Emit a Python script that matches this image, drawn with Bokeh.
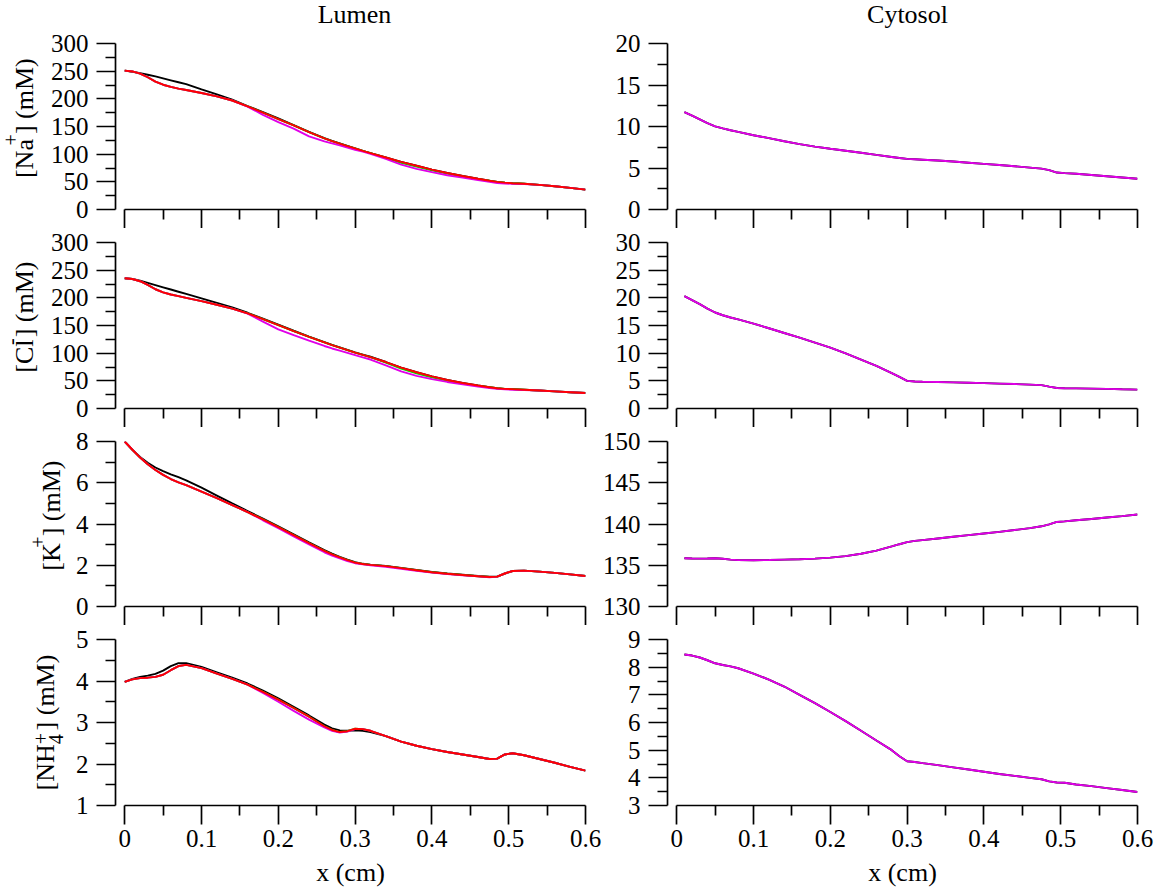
from math import pi

from bokeh.embed import file_html
from bokeh.layouts import column, row
from bokeh.models import FixedTicker, Label, NumeralTickFormatter, Range1d
from bokeh.plotting import figure
from bokeh.resources import INLINE

# ---------------------------------------------------------------- data
# position along the tubule (cm)
x_lumen = [0, 0.01, 0.02, 0.03, 0.04, 0.05, 0.06, 0.07, 0.08, 0.1, 0.12, 0.14,
           0.16, 0.18, 0.2, 0.22, 0.24, 0.26, 0.27, 0.28, 0.29, 0.3, 0.31, 0.32,
           0.34, 0.36, 0.38, 0.4, 0.42, 0.44, 0.46, 0.475, 0.485, 0.495, 0.505,
           0.52, 0.54, 0.56, 0.58, 0.6]
x_cytosol = [0.01, 0.02, 0.03, 0.04, 0.05, 0.06, 0.07, 0.08, 0.1, 0.12, 0.14,
             0.16, 0.18, 0.2, 0.22, 0.24, 0.26, 0.28, 0.29, 0.3, 0.31, 0.32,
             0.34, 0.36, 0.38, 0.4, 0.42, 0.44, 0.46, 0.475, 0.485, 0.495, 0.505,
             0.52, 0.54, 0.56, 0.58, 0.6]

# luminal concentrations (mM), one list per simulation
na_lumen_black = [251, 249, 246.5, 243.5, 240.5, 237, 233.5, 230, 226.5, 217, 208, 198.5,
                  187, 176, 164.5, 152.5, 140.5, 129, 124, 119.5, 115, 110.5, 106, 102,
                  94, 86, 79, 72, 66, 60.5, 55.5, 52, 50, 48.5, 47.5,
                  46.5, 44.5, 42, 39, 36]
na_lumen_green = [251, 249.5, 245.5, 239, 231, 225.5, 221.5, 218.5, 216, 210.5, 204.5, 197,
                  186.5, 175, 163.5, 152, 140, 128.5, 123.5, 119, 114.5, 110.5, 106, 102,
                  93.5, 84.5, 77.5, 71, 65, 60, 55, 52, 50, 48.5, 47.5,
                  46.5, 44.5, 42, 39, 36]
na_lumen_magenta = [251, 249.5, 245.5, 239, 231, 225.5, 221.5, 218.5, 216, 210.5, 204.5, 197,
                    186, 171, 158, 146, 132, 123, 119.5, 116, 112, 108, 104.5, 100.5,
                    91.5, 81, 73.5, 67.5, 62, 57.5, 53, 50, 48, 47, 46.5,
                    46, 44.5, 42, 39, 36]
na_lumen_red = [251, 249.5, 245.5, 239, 231, 225.5, 221.5, 218.5, 216, 210.5, 204.5, 197,
                186.5, 175, 163.5, 152, 140, 128.5, 123.5, 119, 114.5, 110.5, 106, 102,
                94, 86, 79, 72, 66, 60.5, 55.5, 52, 50, 48.5, 47.5,
                46.5, 44.5, 42, 39, 36]

cl_lumen_black = [235.5, 234, 231, 227, 223, 219, 215, 211, 207, 199, 191, 182.5,
                  173, 162.5, 151.5, 140.5, 130, 120, 115, 110.5, 106, 101.5, 97.5, 93.5,
                  84, 74, 65.5, 58, 51.5, 46, 41.5, 38.5, 36.5, 35.5, 35,
                  34, 32.5, 31, 29.5, 28]
cl_lumen_green = [235.5, 234, 230, 223.5, 215.5, 210, 206, 203, 200, 194, 187.5, 180.5,
                  172, 161.5, 150.5, 140, 129.5, 119.5, 114.5, 110, 105.5, 101, 97, 93,
                  83, 72, 63.5, 56.5, 50.5, 45.5, 41, 38.5, 36.5, 35.5, 35,
                  34, 32.5, 31, 29.5, 28]
cl_lumen_magenta = [235.5, 234, 230, 223.5, 215.5, 210, 206, 203, 200, 194, 187.5, 180.5,
                    171.5, 157, 143, 132.5, 122.5, 113, 108.5, 104.5, 100.5, 96.5, 92.5, 88.5,
                    78, 67, 59, 53, 48, 43.5, 39.5, 37, 35.5, 34.5, 34,
                    33.5, 32.5, 31, 29.5, 28]
cl_lumen_red = [235.5, 234, 230, 223.5, 215.5, 210, 206, 203, 200, 194, 187.5, 180.5,
                172, 161.5, 150.5, 140, 129.5, 119.5, 114.5, 110, 105.5, 101, 97, 93,
                84, 74, 65.5, 58, 51.5, 46, 41.5, 38.5, 36.5, 35.5, 35,
                34, 32.5, 31, 29.5, 28]

k_lumen_black = [8.0, 7.6, 7.25, 6.97, 6.74, 6.56, 6.41, 6.27, 6.12, 5.76, 5.38, 5.0,
                 4.63, 4.26, 3.89, 3.5, 3.11, 2.73, 2.56, 2.41, 2.27, 2.15, 2.07, 2.03,
                 1.97, 1.87, 1.77, 1.67, 1.6, 1.54, 1.48, 1.44, 1.45, 1.6, 1.72,
                 1.74, 1.69, 1.63, 1.56, 1.48]
k_lumen_green = [8.0, 7.6, 7.22, 6.9, 6.62, 6.38, 6.18, 6.02, 5.88, 5.57, 5.25, 4.92,
                 4.58, 4.22, 3.85, 3.46, 3.07, 2.7, 2.53, 2.38, 2.25, 2.13, 2.06, 2.02,
                 1.96, 1.86, 1.76, 1.66, 1.59, 1.53, 1.47, 1.43, 1.45, 1.6, 1.72,
                 1.74, 1.69, 1.63, 1.56, 1.48]
k_lumen_magenta = [8.0, 7.6, 7.22, 6.9, 6.62, 6.38, 6.18, 6.02, 5.88, 5.57, 5.25, 4.92,
                   4.58, 4.18, 3.8, 3.4, 3.01, 2.63, 2.47, 2.33, 2.2, 2.1, 2.04, 2.0,
                   1.93, 1.83, 1.73, 1.64, 1.57, 1.51, 1.46, 1.42, 1.45, 1.6, 1.72,
                   1.74, 1.69, 1.63, 1.56, 1.48]
k_lumen_red = [8.0, 7.6, 7.22, 6.9, 6.62, 6.38, 6.18, 6.02, 5.88, 5.57, 5.25, 4.92,
               4.58, 4.22, 3.85, 3.46, 3.07, 2.7, 2.53, 2.38, 2.25, 2.13, 2.06, 2.02,
               1.96, 1.86, 1.76, 1.66, 1.59, 1.53, 1.47, 1.43, 1.45, 1.6, 1.72,
               1.74, 1.69, 1.63, 1.56, 1.48]

nh4_lumen_black = [3.98, 4.05, 4.1, 4.13, 4.17, 4.25, 4.36, 4.43, 4.43, 4.34, 4.21, 4.08,
                   3.94, 3.77, 3.58, 3.38, 3.17, 2.95, 2.86, 2.81, 2.8, 2.81, 2.8, 2.77,
                   2.67, 2.54, 2.44, 2.36, 2.29, 2.23, 2.17, 2.12, 2.13, 2.23, 2.26,
                   2.21, 2.12, 2.03, 1.93, 1.84]
nh4_lumen_green = [3.98, 4.04, 4.07, 4.08, 4.1, 4.15, 4.26, 4.36, 4.39, 4.31, 4.18, 4.05,
                   3.91, 3.74, 3.55, 3.35, 3.14, 2.91, 2.82, 2.77, 2.79, 2.85, 2.84, 2.8,
                   2.67, 2.54, 2.44, 2.36, 2.29, 2.23, 2.17, 2.12, 2.13, 2.23, 2.26,
                   2.21, 2.12, 2.03, 1.93, 1.84]
nh4_lumen_magenta = [3.98, 4.04, 4.07, 4.08, 4.1, 4.15, 4.26, 4.36, 4.39, 4.31, 4.18, 4.05,
                     3.91, 3.71, 3.5, 3.28, 3.07, 2.88, 2.8, 2.76, 2.78, 2.84, 2.84, 2.8,
                     2.67, 2.54, 2.44, 2.36, 2.29, 2.23, 2.17, 2.12, 2.13, 2.23, 2.26,
                     2.21, 2.12, 2.03, 1.93, 1.84]
nh4_lumen_red = [3.98, 4.04, 4.07, 4.08, 4.1, 4.15, 4.26, 4.36, 4.39, 4.31, 4.18, 4.05,
                 3.91, 3.74, 3.55, 3.35, 3.14, 2.91, 2.82, 2.77, 2.79, 2.85, 2.84, 2.8,
                 2.67, 2.54, 2.44, 2.36, 2.29, 2.23, 2.17, 2.12, 2.13, 2.23, 2.26,
                 2.21, 2.12, 2.03, 1.93, 1.84]

# cytosolic concentrations (mM); all simulations coincide here
na_cytosol = [11.74, 11.3, 10.85, 10.4, 10.02, 9.78, 9.55, 9.35, 8.95, 8.6, 8.22,
              7.88, 7.58, 7.32, 7.08, 6.84, 6.58, 6.33, 6.2, 6.1, 6.05, 6.0,
              5.9, 5.78, 5.64, 5.5, 5.36, 5.21, 5.05, 4.92, 4.75, 4.45, 4.38,
              4.3, 4.15, 4.0, 3.85, 3.7]
cl_cytosol = [20.3, 19.6, 18.85, 18.05, 17.35, 16.85, 16.45, 16.1, 15.35, 14.5, 13.65,
              12.8, 11.9, 11.0, 9.95, 8.85, 7.7, 6.4, 5.7, 5.0, 4.88, 4.84,
              4.78, 4.72, 4.65, 4.58, 4.5, 4.42, 4.32, 4.22, 3.95, 3.7, 3.66,
              3.64, 3.6, 3.55, 3.48, 3.42]
k_cytosol = [135.85, 135.82, 135.8, 135.82, 135.85, 135.78, 135.68, 135.62, 135.6, 135.63, 135.68,
             135.73, 135.8, 135.92, 136.1, 136.4, 136.78, 137.28, 137.55, 137.8, 137.95, 138.05,
             138.25, 138.45, 138.65, 138.85, 139.05, 139.27, 139.5, 139.72, 139.95, 140.25, 140.32,
             140.45, 140.6, 140.78, 140.95, 141.15]
nh4_cytosol = [8.46, 8.42, 8.35, 8.25, 8.14, 8.08, 8.03, 7.96, 7.77, 7.55, 7.3,
               7.0, 6.7, 6.38, 6.05, 5.7, 5.35, 5.0, 4.78, 4.6, 4.57, 4.53,
               4.46, 4.38, 4.3, 4.22, 4.14, 4.07, 4.0, 3.95, 3.87, 3.83, 3.82,
               3.76, 3.7, 3.63, 3.56, 3.49]

# axis ticks
x_ticks = [0, 0.1, 0.2, 0.3, 0.4, 0.5, 0.6]
x_minor = [0.05, 0.15, 0.25, 0.35, 0.45, 0.55]
na_lumen_ticks, na_lumen_minor = [0, 50, 100, 150, 200, 250, 300], [25, 75, 125, 175, 225, 275]
na_cyto_ticks, na_cyto_minor = [0, 5, 10, 15, 20], [2.5, 7.5, 12.5, 17.5]
cl_lumen_ticks, cl_lumen_minor = [0, 50, 100, 150, 200, 250, 300], [25, 75, 125, 175, 225, 275]
cl_cyto_ticks, cl_cyto_minor = [0, 5, 10, 15, 20, 25, 30], [2.5, 7.5, 12.5, 17.5, 22.5, 27.5]
k_lumen_ticks, k_lumen_minor = [0, 2, 4, 6, 8], [1, 3, 5, 7]
k_cyto_ticks, k_cyto_minor = [130, 135, 140, 145, 150], [132.5, 137.5, 142.5, 147.5]
nh4_lumen_ticks, nh4_lumen_minor = [1, 2, 3, 4, 5], [1.5, 2.5, 3.5, 4.5]
nh4_cyto_ticks, nh4_cyto_minor = [3, 4, 5, 6, 7, 8, 9], [3.5, 4.5, 5.5, 6.5, 7.5, 8.5]

# ---------------------------------------------------------------- style
FONT = "Liberation Serif"
FS = 26          # title text size (px)
TICK_FS = 25     # tick label size (px)
SUB_FS = 20      # super/subscript size (px)
MID = 0.37       # offset of a label's anchor above its baseline, in em
BLACK, GREEN, MAGENTA, RED = "#000000", "#00d800", "#e000e8", "#ff0000"
LW = 1.9
AXW = 1.7

X0, X1 = -0.012, 0.6
FRAME_W = 470
PAGE_W = 1168
HEAD_H = 29

# advance widths (em) of the serif face used for the axis titles
EM = {"[": 0.333, "]": 0.333, "N": 0.722, "a": 0.444, "C": 0.667, "l": 0.278,
      "K": 0.722, "H": 0.722, " ": 0.25, "(": 0.333, ")": 0.333, "m": 0.778,
      "M": 0.889, "+": 0.564, "-": 0.333, "4": 0.5}


def text_width(s, size):
    return sum(EM[c] for c in s) * size


def style_axis(ax):
    ax.axis_line_color = "black"
    ax.axis_line_width = AXW
    ax.major_tick_line_color = "black"
    ax.minor_tick_line_color = "black"
    ax.major_tick_line_width = AXW
    ax.minor_tick_line_width = AXW
    ax.major_tick_in = 0
    ax.major_tick_out = 19
    ax.minor_tick_in = 0
    ax.minor_tick_out = 10
    ax.major_label_text_font = FONT
    ax.major_label_text_font_size = f"{TICK_FS}px"
    ax.major_label_text_color = "black"


def add_text(p, x, y, text, size, angle=0.0, align="left"):
    p.add_layout(Label(x=x, y=y, text=text, angle=angle, text_font=FONT,
                       text_font_size=f"{size}px", text_align=align,
                       text_baseline="middle", text_color="black"))


def blank(width, height):
    """A bare canvas whose data units are pixels, used for free-standing text."""
    p = figure(width=width, height=height, x_range=Range1d(0, width),
               y_range=Range1d(0, height), min_border=0,
               x_axis_location=None, y_axis_location=None,
               output_backend="svg", toolbar_location=None, tools="")
    p.outline_line_color = None
    p.grid.visible = False
    p.background_fill_color = "white"
    p.border_fill_color = "white"
    return p


def panel(y_lo, y_hi, ticks, minor, top, frame_h, bottom, left, right, last):
    p = figure(frame_width=FRAME_W, frame_height=frame_h,
               x_range=Range1d(X0, X1), y_range=Range1d(y_lo, y_hi),
               min_border_top=top, min_border_bottom=bottom,
               min_border_left=left, min_border_right=right,
               output_backend="svg", toolbar_location=None, tools="")
    p.outline_line_color = None
    p.grid.visible = False
    p.background_fill_color = "white"
    p.border_fill_color = "white"

    xa, ya = p.xaxis[0], p.yaxis[0]
    style_axis(xa)
    style_axis(ya)
    xa.ticker = FixedTicker(ticks=x_ticks, minor_ticks=x_minor)
    xa.bounds = (0, 0.6)
    xa.formatter = NumeralTickFormatter(format="0.[0]")
    if last:
        xa.major_label_standoff = 5
        xa.axis_label = "x (cm)"
        xa.axis_label_text_font = FONT
        xa.axis_label_text_font_size = f"{FS}px"
        xa.axis_label_text_font_style = "normal"
        xa.axis_label_text_color = "black"
        xa.axis_label_standoff = 8
    else:
        # tick marks only; labels are not drawn and take no room
        xa.major_label_standoff = 0
        xa.major_label_text_font_size = "0px"
        xa.major_label_text_color = None
    ya.ticker = FixedTicker(ticks=ticks, minor_ticks=minor)
    ya.major_label_standoff = 8
    return p


def main_piece(s):
    return (s, FS, 0, text_width(s, FS))


def sup_piece(s, rise, gap=2.5):
    return (s, SUB_FS, rise, text_width(s, SUB_FS) + gap)


# per row: top border, frame height, bottom border, width of the title strip
rows_geom = [(14, 166, 19, 44), (14, 166, 19, 44), (14, 165, 19, 68), (14, 166, 85, 68)]
STRIP_BOTTOM = 19

lumen_sets = [
    (na_lumen_black, na_lumen_green, na_lumen_magenta, na_lumen_red, 0, 300, na_lumen_ticks, na_lumen_minor),
    (cl_lumen_black, cl_lumen_green, cl_lumen_magenta, cl_lumen_red, 0, 300, cl_lumen_ticks, cl_lumen_minor),
    (k_lumen_black, k_lumen_green, k_lumen_magenta, k_lumen_red, 0, 8, k_lumen_ticks, k_lumen_minor),
    (nh4_lumen_black, nh4_lumen_green, nh4_lumen_magenta, nh4_lumen_red, 1, 5, nh4_lumen_ticks, nh4_lumen_minor),
]
cytosol_sets = [
    (na_cytosol, 0, 20, na_cyto_ticks, na_cyto_minor),
    (cl_cytosol, 0, 30, cl_cyto_ticks, cl_cyto_minor),
    (k_cytosol, 130, 150, k_cyto_ticks, k_cyto_minor),
    (nh4_cytosol, 3, 9, nh4_cyto_ticks, nh4_cyto_minor),
]

# vertical axis titles: (text, size, rise, advance) pieces and baseline x
titles = [
    ([main_piece("[Na"), sup_piece("+", 16), main_piece("] (mM)")], 33.5),
    ([main_piece("[Cl"), sup_piece("-", 16), main_piece("] (mM)")], 33.5),
    ([main_piece("[K"), sup_piece("+", 16), main_piece("] (mM)")], 61),
    ([main_piece("[NH"), ("4", SUB_FS, -8, 0), sup_piece("+", 7), main_piece("] (mM)")], 55),
]

# column headings, placed by their baselines (pixels from the top)
head = blank(PAGE_W, HEAD_H)
add_text(head, 354, HEAD_H - (24 - MID * FS), "Lumen", FS, align="center")
add_text(head, 907, HEAD_H - (24 - MID * FS), "Cytosol", FS, align="center")

layout_rows = [head]
for i, ((top, fh, bot, strip_w), lum, cyt, (pieces, base_x)) in enumerate(
        zip(rows_geom, lumen_sets, cytosol_sets, titles)):
    last = i == 3
    l_left, l_right = 115 - strip_w, (19 if last else 13)
    r_left, r_right = (63 if last else 69), 31

    # rotated title, assembled piece by piece upwards from the bottom
    strip_h = top + fh + STRIP_BOTTOM
    strip = blank(strip_w, strip_h)
    total = sum(adv for _, _, _, adv in pieces)
    pos = (strip_h - top - fh / 2) - total / 2
    for text, size, rise, adv in pieces:
        add_text(strip, base_x - rise - MID * size, pos, text, size, angle=pi / 2)
        pos += adv
    if bot > STRIP_BOTTOM:
        strip = column(strip, blank(strip_w, bot - STRIP_BOTTOM))

    blk, grn, mag, red, lo, hi, tk, mn = lum
    pl = panel(lo, hi, tk, mn, top, fh, bot, l_left, l_right, last)
    for ys, c in ((blk, BLACK), (grn, GREEN), (mag, MAGENTA), (red, RED)):
        pl.line(x_lumen, ys, line_color=c, line_width=LW)

    vals, clo, chi, ctk, cmn = cyt
    pr = panel(clo, chi, ctk, cmn, top, fh, bot, r_left, r_right, last)
    pr.line(x_cytosol, vals, line_color=BLACK, line_width=LW)
    pr.line(x_cytosol, vals, line_color=MAGENTA, line_width=LW)

    layout_rows.append(row(strip, pl, pr))

page = column(*layout_rows)

with open("out.html", "w") as f:
    f.write(file_html(page, INLINE, title="Lumen and cytosol concentrations"))
